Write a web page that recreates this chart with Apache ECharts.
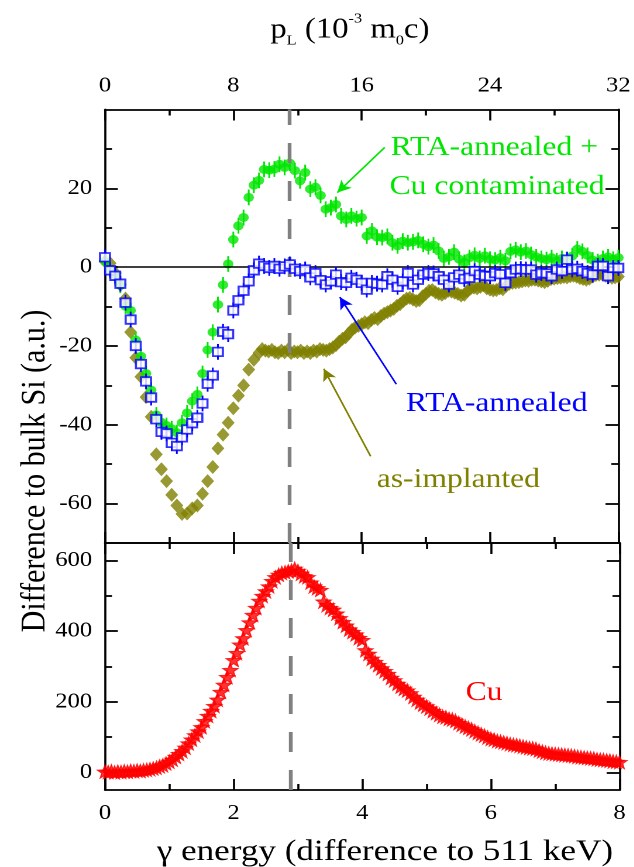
<!DOCTYPE html>
<html>
<head>
<meta charset="utf-8">
<script src="https://cdn.jsdelivr.net/npm/echarts@6/dist/echarts.min.js"></script>
<style>
  html, body { margin: 0; padding: 0; background: #fff; overflow: hidden; }
  /* the figure uses a horizontally widened typeface, so the whole canvas is widened */
  #chart { width: 542px; height: 867px; transform: scaleX(1.17); transform-origin: 0 0; }
</style>
</head>
<body>
<div id="chart"></div>
<script>
// ---- Top panel: difference spectra relative to bulk Si (x step 0.08 keV) ----
const STEP_DIFF = 0.08;
const rtaCu = [
  1.5, -0.5, -2.3, -4.6, -9.9, -11.0, -18.5, -22.6, -27.0, -31.2,
  -37.5, -39.4, -40.2, -41.0, -42.0, -39.5, -37.0, -34.0, -32.3, -27.0,
  -21.0, -16.5, -9.5, -4.5, 0.8, 7.0, 10.5, 12.6, 17.7, 20.8,
  22.0, 24.8, 24.6, 24.9, 26.1, 25.3, 26.4, 24.5, 21.9, 24.0,
  19.8, 20.3, 18.2, 14.7, 15.1, 15.9, 13.0, 12.1, 13.0, 12.3,
  12.6, 7.9, 9.2, 7.6, 7.5, 7.8, 6.2, 5.4, 6.6, 6.2,
  6.4, 6.8, 5.8, 5.2, 5.6, 4.1, 2.2, 2.6, 3.8, 2.0,
  1.2, 2.4, 3.0, 2.2, 2.9, 2.0, 1.8, 2.4, 1.6, 4.0,
  4.4, 3.8, 4.1, 3.2, 2.6, 2.2, 1.9, 2.4, 1.6, 2.2,
  1.9, 2.8, 4.6, 4.0, 3.0, 1.8, 1.4, 2.2, 2.6, 2.0,
  2.4
];
const rtaAnnealed = [
  2.5, -0.8, -2.2, -4.2, -9.0, -13.3, -20.0, -24.6, -29.0, -33.1,
  -38.6, -41.8, -42.2, -44.6, -45.4, -43.2, -41.2, -39.6, -38.2, -34.6,
  -29.6, -27.5, -21.5, -16.4, -17.0, -11.0, -8.4, -6.0, -3.6, -0.8,
  0.9, 0.3, -0.2, 0.3, -0.4, 0.2, 0.7, -0.4, -1.0, -0.6,
  -2.6, -1.5, -3.3, -4.4, -3.6, -1.9, -3.8, -4.0, -2.7, -3.2,
  -4.0, -5.7, -4.0, -4.2, -4.4, -2.3, -3.2, -5.0, -3.6, -1.5,
  -4.4, -3.2, -1.9, -1.5, -1.6, -2.3, -3.2, -4.4, -2.6, -1.9,
  -3.0, -2.7, -1.0, -1.9, -2.2, -2.3, -1.5, -1.8, -4.0, -1.5,
  -0.6, -0.5, -0.6, -0.6, -1.9, -1.5, -1.6, -2.3, -0.6, -1.0,
  1.9, -0.6, -0.4, -1.0, -1.5, -1.9, 0.3, 0.3, -2.3, -0.2,
  -0.2
];
// as-implanted: 0 .. 2.40 keV in steps of 0.08, then 2.45 .. 8.00 keV in steps of 0.05
const asImplantedLow = [
  1.5, 1.0, -1.5, -4.5, -8.0, -16.5, -23.0, -27.8, -33.0, -38.0,
  -47.5, -51.3, -54.3, -57.8, -60.5, -62.6, -62.5, -61.2, -60.5, -57.5,
  -54.3, -50.7, -46.0, -42.5, -39.5, -35.8, -32.6, -30.0, -26.0, -23.5,
  -21.8
];
const AI_HIGH_START = 2.45, AI_HIGH_STEP = 0.05;
const asImplantedHigh = [
  -20.8, -21.2, -21.4, -21.0, -21.6, -21.8, -21.2, -21.6, -21.0, -21.8,
  -21.4, -21.6, -21.2, -21.8, -21.4, -21.8, -21.2, -21.4, -20.8, -21.0,
  -21.2, -20.8, -20.4, -19.8, -18.9, -18.2, -17.8, -16.8, -15.9, -15.3,
  -14.9, -14.5, -14.0, -14.2, -13.4, -12.9, -13.2, -12.4, -11.8, -11.4,
  -11.0, -10.6, -9.8, -9.4, -8.6, -8.0, -7.8, -8.2, -8.6, -8.4,
  -7.4, -6.8, -6.0, -5.8, -6.4, -6.8, -7.0, -6.6, -6.0, -6.2,
  -6.5, -6.8, -7.2, -7.0, -6.0, -5.4, -5.2, -5.4, -5.0, -4.6,
  -5.4, -5.7, -5.9, -5.8, -5.4, -5.6, -4.8, -4.2, -4.0, -3.9,
  -3.8, -3.6, -3.4, -3.5, -3.2, -3.2, -3.4, -3.6, -3.8, -3.5,
  -3.0, -2.9, -2.8, -2.7, -2.5, -2.6, -2.3, -2.2, -2.4, -2.8,
  -3.0, -3.2, -2.9, -2.4, -2.0, -1.9, -1.8, -2.2, -2.5, -2.7,
  -2.6, -2.4
];
const ERR_DIFF = 2.0;          // statistical error of the difference points
const PEAK_ENERGY = 2.88;      // position of the Cu maximum (keV)

// ---- Bottom panel: Cu reference spectrum (x step 0.05 keV) ----
const STEP_CU = 0.05;
const cuSpectrum = [
  2, 1, 3, 0, 2, 1, 3, 2, 4, 3, 5, 4, 6, 7, 9, 11, 13, 17, 20, 25,
  30, 36, 44, 52, 60, 70, 82, 93, 105, 116, 128, 145, 160, 174, 188, 206, 228, 248, 270, 290,
  318, 338, 362, 380, 403, 425, 446, 466, 486, 500, 513, 527, 542, 553, 560, 565, 567, 570, 572, 577,
  571, 563, 556, 553, 538, 527, 522, 517, 484, 474, 466, 461, 450, 437, 426, 416, 405, 398, 391, 381,
  375, 346, 336, 322, 313, 304, 295, 287, 279, 268, 261, 251, 243, 237, 232, 224, 214, 206, 198, 192,
  187, 181, 174, 168, 163, 158, 156, 152, 150, 146, 140, 135, 130, 126, 122, 117, 112, 108, 104, 99,
  95, 93, 89, 87, 85, 83, 80, 78, 77, 75, 73, 71, 69, 68, 66, 62, 59, 56, 54, 53,
  52, 51, 50, 49, 48, 47, 46, 44, 43, 42, 41, 40, 39, 37, 36, 35, 34, 33, 31, 30,
  29
];

// ---- Axis ticks ----
const diffMajor = [-60, -40, -20, 0, 20];
const diffMinor = [-50, -30, -10, 10, 30];
const cuMajor = [0, 200, 400, 600];
const cuMinor = [100, 300, 500];

// ---- Annotation arrows (tail -> head, in data units of the top panel) ----
const arrows = [
  { color: '#00e600', from: [4.36, 30.4], to: [3.62, 18.9] },
  { color: '#0000ff', from: [4.54, -29.7], to: [3.66, -7.6] },
  { color: '#808000', from: [4.14, -48.0], to: [3.41, -25.8] }
];

const GREEN = '#00e600', BLUE = '#0000ff', OLIVE = '#808000', RED = '#ff0000';
const FONT = '"Liberation Serif", "Times New Roman", Times, serif';

const toPairs = (vals, x0, step) => vals.map((v, i) => [+(x0 + i * step).toFixed(3), v]);
const rtaCuPts = toPairs(rtaCu, 0, STEP_DIFF);
const rtaPts = toPairs(rtaAnnealed, 0, STEP_DIFF);
const asImplPts = toPairs(asImplantedLow, 0, STEP_DIFF)
  .concat(toPairs(asImplantedHigh, AI_HIGH_START, AI_HIGH_STEP));
const cuPts = toPairs(cuSpectrum, 0, STEP_CU);

const lineBlack = { color: '#000', width: 1.8 };
const tickFont = { fontFamily: FONT, fontSize: 21, color: '#000' };

function xAxisDef(gridIndex, position, max, interval, showLabel) {
  return {
    type: 'value', gridIndex, position, min: 0, max, interval,
    axisLine: { show: true, onZero: false, lineStyle: lineBlack },
    axisTick: { show: true, inside: true, length: 11, lineStyle: lineBlack },
    minorTick: { show: true, splitNumber: 2, length: 6, lineStyle: lineBlack },
    axisLabel: Object.assign({ show: showLabel, margin: 13, showMinLabel: true, showMaxLabel: true }, tickFont),
    splitLine: { show: false }, minorSplitLine: { show: false }
  };
}
function yAxisDef(gridIndex, position, min, max, ticks, len, showLabel, showLine) {
  return {
    type: 'value', gridIndex, position, min, max,
    axisLine: { show: showLine, onZero: false, lineStyle: lineBlack },
    axisTick: { show: true, inside: true, length: len, customValues: ticks, lineStyle: lineBlack },
    axisLabel: Object.assign({ show: showLabel, margin: 11, customValues: ticks }, tickFont),
    splitLine: { show: false }
  };
}

function errorBars(err, color) {
  return function (params, api) {
    const x = api.value(0), y = api.value(1);
    const a = api.coord([x, y - err]);
    const b = api.coord([x, y + err]);
    return {
      type: 'line',
      shape: { x1: a[0], y1: a[1], x2: b[0], y2: b[1] },
      style: { stroke: color, lineWidth: 1.5 }
    };
  };
}

const STAR = 'path://M12,0 L15,8.5 L24,9 L17,14.5 L19.5,23.5 L12,18 L4.5,23.5 L7,14.5 L0,9 L9,8.5 Z';

const dashedPeak = {
  silent: true, symbol: 'none', label: { show: false },
  lineStyle: { color: '#808080', width: 3.2, type: [20, 18] },
  data: [{ xAxis: PEAK_ENERGY }]
};

const option = {
  animation: false,
  backgroundColor: '#fff',
  textStyle: { fontFamily: FONT },
  grid: [
    { left: 89.7, right: 12.5, top: 109.5, height: 433.5 },
    { left: 89.7, right: 12.5, top: 543, height: 247 }
  ],
  xAxis: [
    xAxisDef(0, 'bottom', 8, 2, false),
    xAxisDef(0, 'top', 32, 8, true),
    xAxisDef(1, 'bottom', 8, 2, true),
    xAxisDef(1, 'top', 8, 2, false)
  ],
  yAxis: [
    yAxisDef(0, 'left', -70, 40, diffMajor, 11, true, true),
    yAxisDef(0, 'left', -70, 40, diffMinor, 6, false, false),
    yAxisDef(0, 'right', -70, 40, diffMajor, 11, false, true),
    yAxisDef(0, 'right', -70, 40, diffMinor, 6, false, false),
    yAxisDef(1, 'left', -50, 650, cuMajor, 11, true, true),
    yAxisDef(1, 'left', -50, 650, cuMinor, 6, false, false),
    yAxisDef(1, 'right', -50, 650, cuMajor, 11, false, true),
    yAxisDef(1, 'right', -50, 650, cuMinor, 6, false, false)
  ],
  series: [
    { // zero reference line
      type: 'line', xAxisIndex: 0, yAxisIndex: 0, data: [], z: 1,
      markLine: {
        silent: true, symbol: 'none', label: { show: false },
        lineStyle: { color: '#000', width: 1.5, type: 'solid' },
        data: [{ yAxis: 0 }]
      }
    },
    {
      name: 'as-implanted', type: 'scatter', xAxisIndex: 0, yAxisIndex: 0, z: 2,
      data: asImplPts, symbol: 'diamond', symbolSize: [11, 14],
      itemStyle: { color: OLIVE }
    },
    {
      type: 'custom', xAxisIndex: 0, yAxisIndex: 0, z: 3,
      data: rtaCuPts, renderItem: errorBars(ERR_DIFF, GREEN)
    },
    {
      name: 'RTA-annealed + Cu contaminated', type: 'scatter', xAxisIndex: 0, yAxisIndex: 0, z: 4,
      data: rtaCuPts, symbol: 'circle', symbolSize: 9,
      itemStyle: { color: GREEN }
    },
    {
      type: 'custom', xAxisIndex: 0, yAxisIndex: 0, z: 5,
      data: rtaPts, renderItem: errorBars(ERR_DIFF, BLUE)
    },
    {
      name: 'RTA-annealed', type: 'scatter', xAxisIndex: 0, yAxisIndex: 0, z: 6,
      data: rtaPts, symbol: 'rect', symbolSize: 8.5,
      itemStyle: { color: '#fff', borderColor: BLUE, borderWidth: 1.8 }
    },
    { // Cu peak position, top panel
      type: 'line', xAxisIndex: 0, yAxisIndex: 0, data: [], z: 7, markLine: dashedPeak
    },
    { // annotation arrows
      type: 'line', xAxisIndex: 0, yAxisIndex: 0, data: [], z: 8,
      markLine: {
        silent: true, symbol: ['none', 'arrow'], symbolSize: [9, 12], label: { show: false },
        data: arrows.map(a => [
          { coord: a.from, lineStyle: { color: a.color, width: 1.5, type: 'solid' } },
          { coord: a.to }
        ])
      }
    },
    { // Cu peak position, bottom panel
      type: 'line', xAxisIndex: 2, yAxisIndex: 4, data: [], z: 1, markLine: dashedPeak
    },
    {
      name: 'Cu', type: 'scatter', xAxisIndex: 2, yAxisIndex: 4, z: 2,
      data: cuPts, symbol: STAR, symbolSize: 13,
      itemStyle: { color: RED, borderColor: RED, borderWidth: 1 }
    }
  ],
  graphic: [
    {
      type: 'text', x: 299, y: 30,
      style: {
        text: '{a|p}{b|L}{a| (10}{c|-3}{a| m}{b|0}{a|c)}',
        align: 'center', verticalAlign: 'middle',
        rich: {
          a: { fontFamily: FONT, fontSize: 28, lineHeight: 36, fill: '#000' },
          b: { fontFamily: FONT, fontSize: 14, verticalAlign: 'bottom', fill: '#000' },
          c: { fontFamily: FONT, fontSize: 14, verticalAlign: 'top', fill: '#000' }
        }
      }
    },
    {
      type: 'text', x: 329, y: 852,
      style: { text: 'γ energy (difference to 511 keV)', fontFamily: FONT, fontSize: 30, fill: '#000', align: 'center', verticalAlign: 'middle' }
    },
    {
      type: 'text', x: 30, y: 471, rotation: Math.PI / 2,
      style: { text: 'Difference to bulk Si (a.u.)', fontFamily: FONT, fontSize: 30, fill: '#000', align: 'center', verticalAlign: 'middle' }
    },
    {
      type: 'text', x: 334, y: 148,
      style: { text: 'RTA-annealed +', fontFamily: FONT, fontSize: 27, fill: GREEN, align: 'left', verticalAlign: 'middle' }
    },
    {
      type: 'text', x: 333, y: 187,
      style: { text: 'Cu contaminated', fontFamily: FONT, fontSize: 27, fill: GREEN, align: 'left', verticalAlign: 'middle' }
    },
    {
      type: 'text', x: 347, y: 404,
      style: { text: 'RTA-annealed', fontFamily: FONT, fontSize: 27, fill: BLUE, align: 'left', verticalAlign: 'middle' }
    },
    {
      type: 'text', x: 322, y: 480,
      style: { text: 'as-implanted', fontFamily: FONT, fontSize: 27, fill: OLIVE, align: 'left', verticalAlign: 'middle' }
    },
    {
      type: 'text', x: 398, y: 693,
      style: { text: 'Cu', fontFamily: FONT, fontSize: 27, fill: RED, align: 'left', verticalAlign: 'middle' }
    }
  ]
};

const chart = echarts.init(document.getElementById('chart'), null, { renderer: 'canvas', devicePixelRatio: 2 });
chart.setOption(option);
</script>
</body>
</html>
